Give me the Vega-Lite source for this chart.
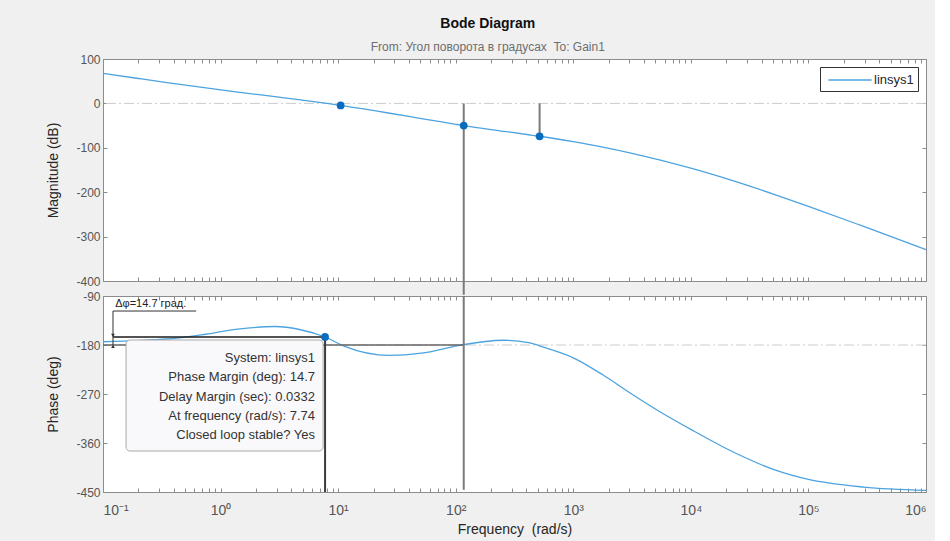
{
  "$schema": "https://vega.github.io/schema/vega-lite/v6.json",
  "background": "#f0f0f0",
  "padding": {"left": 46, "top": 16, "right": 5, "bottom": 5},
  "title": {
    "text": "Bode Diagram",
    "subtitle": "From: Угол поворота в градусах\u00a0 To: Gain1",
    "fontSize": 14,
    "fontWeight": "bold",
    "color": "#111111",
    "subtitleFontSize": 12,
    "subtitleColor": "#6e6e6e",
    "subtitlePadding": 11,
    "offset": 0,
    "anchor": "middle",
    "font": "Liberation Sans",
    "subtitleFont": "Liberation Sans"
  },
  "config": {
    "font": "Liberation Sans",
    "view": {"stroke": "#8c8c8c", "fill": "white", "strokeWidth": 1},
    "axis": {
      "grid": false,
      "domain": false,
      "tickColor": "#8c8c8c",
      "tickSize": -4,
      "labelFontSize": 12,
      "labelColor": "#555555",
      "titleFontSize": 14,
      "titleFontWeight": "normal",
      "titleColor": "#262626",
      "labelPadding": 7
    },
    "legend": {"labelFontSize": 13, "labelColor": "#262626"}
  },
  "datasets": {
    "mag": [
      {"f": 0.1, "m": 67.7}, {"f": 0.2, "m": 56.1}, {"f": 0.35, "m": 46.9}, {"f": 0.65, "m": 37.0},
      {"f": 1.4, "m": 25.5}, {"f": 2.9, "m": 15.1}, {"f": 4.8, "m": 7.8}, {"f": 7.74, "m": 0.5},
      {"f": 11.2, "m": -5.7}, {"f": 27.5, "m": -22.2}, {"f": 51, "m": -34.2}, {"f": 100, "m": -47},
      {"f": 117, "m": -50}, {"f": 257, "m": -62.8}, {"f": 417, "m": -70.6}, {"f": 517, "m": -74},
      {"f": 1000, "m": -86.3}, {"f": 1780, "m": -98.4}, {"f": 3090, "m": -111.8}, {"f": 5500, "m": -127.7},
      {"f": 10000, "m": -146}, {"f": 23400, "m": -175.2}, {"f": 52500, "m": -205.8}, {"f": 100000, "m": -231.8},
      {"f": 295000, "m": -277.2}, {"f": 1000000, "m": -329.4}
    ],
    "magMarkers": [{"f": 10.5, "m": -4.6}, {"f": 117, "m": -50}, {"f": 517, "m": -74}],
    "magRules": [{"f": 117, "m": 0, "m2": -431}, {"f": 517, "m": 0, "m2": -74}],
    "phase": [
      {"f": 0.1, "p": -174}, {"f": 0.2, "p": -172}, {"f": 0.35, "p": -169}, {"f": 0.65, "p": -162},
      {"f": 1.4, "p": -151}, {"f": 2.9, "p": -146}, {"f": 4.8, "p": -152}, {"f": 7.74, "p": -165.3},
      {"f": 11.2, "p": -182}, {"f": 27.5, "p": -199}, {"f": 51, "p": -195}, {"f": 100, "p": -182},
      {"f": 112, "p": -180}, {"f": 257, "p": -171.3}, {"f": 417, "p": -175.7}, {"f": 575, "p": -185},
      {"f": 1000, "p": -203.6}, {"f": 1780, "p": -234.7}, {"f": 3090, "p": -269}, {"f": 5500, "p": -303},
      {"f": 10000, "p": -335}, {"f": 23400, "p": -377.5}, {"f": 52500, "p": -410}, {"f": 100000, "p": -427},
      {"f": 295000, "p": -441}, {"f": 1000000, "p": -447}
    ],
    "pmMarker": [{"f": 7.74, "p": -165.3}]
  },
  "spacing": 15,
  "bounds": "flush",
  "vconcat": [
    {
      "width": 823,
      "height": 222,
      "resolve": {"axis": {"x": "independent", "y": "independent"}},
      "layer": [
        {
          "data": {"values": [{"m": 0}]},
          "mark": {"type": "rule", "color": "#cccccc", "strokeWidth": 1, "strokeDash": [10, 3, 2, 3]},
          "encoding": {
            "y": {"field": "m", "type": "quantitative", "scale": {"domain": [-400, 100], "nice": false, "zero": false}, "axis": null}
          }
        },
        {
          "data": {"name": "mag"},
          "mark": {"type": "line", "strokeWidth": 1.3, "interpolate": "monotone"},
          "encoding": {
            "x": {"field": "f", "type": "quantitative", "scale": {"type": "log", "domain": [0.1, 1000000], "nice": false},
              "axis": {"orient": "bottom", "labels": false, "title": null,
                "values": [0.1,0.2,0.3,0.4,0.5,0.6,0.7,0.8,0.9,1,2,3,4,5,6,7,8,9,10,20,30,40,50,60,70,80,90,100,200,300,400,500,600,700,800,900,1000,2000,3000,4000,5000,6000,7000,8000,9000,10000,20000,30000,40000,50000,60000,70000,80000,90000,100000,200000,300000,400000,500000,600000,700000,800000,900000,1000000]}},
            "y": {"field": "m", "type": "quantitative", "scale": {"domain": [-400, 100], "nice": false, "zero": false},
              "axis": {"orient": "left", "title": "Magnitude (dB)", "values": [-400, -300, -200, -100, 0, 100], "titlePadding": 15,
                "labelExpr": "replace(datum.label, '−', '-')"}},
            "color": {"datum": "linsys1", "type": "nominal", "scale": {"range": ["#4da3e0"]},
              "legend": {"title": null, "orient": "top-right", "offset": 8, "fillColor": "white", "strokeColor": "#333333",
                "padding": 4, "symbolType": "M-2.7,0H2.7", "symbolSize": 256, "symbolStrokeWidth": 1.5,
                "symbolOffset": 17, "labelOffset": 15, "labelExpr": "datum.label + '\u00a0\u00a0'"}}
          }
        },
        {
          "data": {"name": "magRules"},
          "mark": {"type": "rule", "color": "#7a7a7a", "strokeWidth": 2, "clip": false},
          "encoding": {
            "x": {"field": "f", "type": "quantitative", "scale": {"type": "log", "domain": [0.1, 1000000], "nice": false}, "axis": null},
            "y": {"field": "m", "type": "quantitative", "scale": {"domain": [-400, 100], "nice": false, "zero": false}, "axis": null},
            "y2": {"field": "m2"}
          }
        },
        {
          "data": {"name": "magMarkers"},
          "mark": {"type": "point", "filled": true, "opacity": 1, "color": "#0a6cbf", "size": 60},
          "encoding": {
            "x": {"field": "f", "type": "quantitative", "scale": {"type": "log", "domain": [0.1, 1000000], "nice": false},
              "axis": {"orient": "top", "labels": false, "title": null,
                "values": [0.1,0.2,0.3,0.4,0.5,0.6,0.7,0.8,0.9,1,2,3,4,5,6,7,8,9,10,20,30,40,50,60,70,80,90,100,200,300,400,500,600,700,800,900,1000,2000,3000,4000,5000,6000,7000,8000,9000,10000,20000,30000,40000,50000,60000,70000,80000,90000,100000,200000,300000,400000,500000,600000,700000,800000,900000,1000000]}},
            "y": {"field": "m", "type": "quantitative", "scale": {"domain": [-400, 100], "nice": false, "zero": false},
              "axis": {"orient": "right", "labels": false, "title": null, "values": [-400, -300, -200, -100, 0, 100]}}
          }
        }
      ]
    },
    {
      "width": 823,
      "height": 196,
      "resolve": {"axis": {"x": "independent", "y": "independent"}},
      "layer": [
        {
          "data": {"values": [{"p": -180}]},
          "mark": {"type": "rule", "color": "#cccccc", "strokeWidth": 1, "strokeDash": [10, 3, 2, 3]},
          "encoding": {
            "y": {"field": "p", "type": "quantitative", "scale": {"domain": [-450, -90], "nice": false, "zero": false}, "axis": null}
          }
        },
        {
          "data": {"name": "phase"},
          "mark": {"type": "line", "strokeWidth": 1.3, "color": "#4da3e0", "interpolate": "monotone"},
          "encoding": {
            "x": {"field": "f", "type": "quantitative", "scale": {"type": "log", "domain": [0.1, 1000000], "nice": false},
              "axis": {"orient": "bottom", "title": "Frequency\u00a0 (rad/s)", "titlePadding": 5,
                "labelFontSize": 14, "labelPadding": 15,
                "labelExpr": "abs(log(datum.value)/LN10 - round(log(datum.value)/LN10)) < 0.001 ? '10' + ['⁻¹','⁰','¹','²','³','⁴','⁵','⁶'][round(log(datum.value)/LN10)+1] : ''",
                "values": [0.1,0.2,0.3,0.4,0.5,0.6,0.7,0.8,0.9,1,2,3,4,5,6,7,8,9,10,20,30,40,50,60,70,80,90,100,200,300,400,500,600,700,800,900,1000,2000,3000,4000,5000,6000,7000,8000,9000,10000,20000,30000,40000,50000,60000,70000,80000,90000,100000,200000,300000,400000,500000,600000,700000,800000,900000,1000000]}},
            "y": {"field": "p", "type": "quantitative", "scale": {"domain": [-450, -90], "nice": false, "zero": false},
              "axis": {"orient": "left", "title": "Phase (deg)", "values": [-450, -360, -270, -180, -90], "titlePadding": 15,
                "labelExpr": "replace(datum.label, '−', '-')"}}
          }
        },
        {
          "data": {"values": [{"f": 0.1, "f2": 117, "p": -180}]},
          "mark": {"type": "rule", "color": "#666666", "strokeWidth": 1.5},
          "encoding": {
            "x": {"field": "f", "type": "quantitative", "scale": {"type": "log", "domain": [0.1, 1000000], "nice": false}, "axis": null},
            "x2": {"field": "f2"},
            "y": {"field": "p", "type": "quantitative", "scale": {"domain": [-450, -90], "nice": false, "zero": false}, "axis": null}
          }
        },
        {
          "data": {"values": [{"f": 117, "p": -90, "p2": -446}]},
          "mark": {"type": "rule", "color": "#7a7a7a", "strokeWidth": 2},
          "encoding": {
            "x": {"field": "f", "type": "quantitative", "scale": {"type": "log", "domain": [0.1, 1000000], "nice": false}, "axis": null},
            "y": {"field": "p", "type": "quantitative", "scale": {"domain": [-450, -90], "nice": false, "zero": false}, "axis": null},
            "y2": {"field": "p2"}
          }
        },
        {
          "data": {"values": [{"f": 0.157, "f2": 7.45, "p": -170.8, "p2": -374.7}]},
          "mark": {"type": "rect", "fill": "#f9f9fc", "stroke": "#a8a8a8", "strokeWidth": 1, "cornerRadius": 4},
          "encoding": {
            "x": {"field": "f", "type": "quantitative", "scale": {"type": "log", "domain": [0.1, 1000000], "nice": false}, "axis": null},
            "x2": {"field": "f2"},
            "y": {"field": "p", "type": "quantitative", "scale": {"domain": [-450, -90], "nice": false, "zero": false}, "axis": null},
            "y2": {"field": "p2"}
          }
        },
        {
          "data": {"values": [{"f": 7.74, "p": -165.3, "p2": -450}]},
          "mark": {"type": "rule", "color": "#3c3c3c", "strokeWidth": 2},
          "encoding": {
            "x": {"field": "f", "type": "quantitative", "scale": {"type": "log", "domain": [0.1, 1000000], "nice": false}, "axis": null},
            "y": {"field": "p", "type": "quantitative", "scale": {"domain": [-450, -90], "nice": false, "zero": false}, "axis": null},
            "y2": {"field": "p2"}
          }
        },
        {
          "data": {"values": [{"f": 0.1216, "f2": 7.74, "p": -165.3}]},
          "mark": {"type": "rule", "color": "#1a1a1a", "strokeWidth": 1.5},
          "encoding": {
            "x": {"field": "f", "type": "quantitative", "scale": {"type": "log", "domain": [0.1, 1000000], "nice": false}, "axis": null},
            "x2": {"field": "f2"},
            "y": {"field": "p", "type": "quantitative", "scale": {"domain": [-450, -90], "nice": false, "zero": false}, "axis": null}
          }
        },
        {
          "data": {"values": [{"f": 0.1216, "f2": 0.1216, "p": -117.6, "p2": -180}, {"f": 0.1216, "f2": 0.62, "p": -117.6, "p2": -117.6}]},
          "mark": {"type": "rule", "color": "#333333", "strokeWidth": 1},
          "encoding": {
            "x": {"field": "f", "type": "quantitative", "scale": {"type": "log", "domain": [0.1, 1000000], "nice": false}, "axis": null},
            "x2": {"field": "f2"},
            "y": {"field": "p", "type": "quantitative", "scale": {"domain": [-450, -90], "nice": false, "zero": false}, "axis": null},
            "y2": {"field": "p2"}
          }
        },
        {
          "data": {"values": [{"f": 0.1216, "p": -162.5, "s": "triangle-down"}, {"f": 0.1216, "p": -182.5, "s": "triangle-up"}]},
          "mark": {"type": "point", "filled": true, "color": "#333333", "size": 14, "opacity": 1},
          "encoding": {
            "x": {"field": "f", "type": "quantitative", "scale": {"type": "log", "domain": [0.1, 1000000], "nice": false}, "axis": null},
            "y": {"field": "p", "type": "quantitative", "scale": {"domain": [-450, -90], "nice": false, "zero": false}, "axis": null},
            "shape": {"field": "s", "type": "nominal", "scale": null, "legend": null}
          }
        },
        {
          "data": {"values": [{"f": 0.127, "p": -104.7, "t": "Δφ=14.7 град."}]},
          "mark": {"type": "text", "align": "left", "baseline": "middle", "fontSize": 11, "color": "#222222"},
          "encoding": {
            "x": {"field": "f", "type": "quantitative", "scale": {"type": "log", "domain": [0.1, 1000000], "nice": false}, "axis": null},
            "y": {"field": "p", "type": "quantitative", "scale": {"domain": [-450, -90], "nice": false, "zero": false}, "axis": null},
            "text": {"field": "t"}
          }
        },
        {
          "data": {"values": [{"f": 6.36, "p": -192.9}]},
          "mark": {"type": "text", "align": "right", "baseline": "top", "fontSize": 13, "lineHeight": 19.3, "color": "#333333",
            "text": ["System: linsys1", "Phase Margin (deg): 14.7", "Delay Margin (sec): 0.0332", "At frequency (rad/s): 7.74", "Closed loop stable? Yes"]},
          "encoding": {
            "x": {"field": "f", "type": "quantitative", "scale": {"type": "log", "domain": [0.1, 1000000], "nice": false}, "axis": null},
            "y": {"field": "p", "type": "quantitative", "scale": {"domain": [-450, -90], "nice": false, "zero": false}, "axis": null}
          }
        },
        {
          "data": {"name": "pmMarker"},
          "mark": {"type": "point", "filled": true, "opacity": 1, "color": "#0a6cbf", "size": 60},
          "encoding": {
            "x": {"field": "f", "type": "quantitative", "scale": {"type": "log", "domain": [0.1, 1000000], "nice": false},
              "axis": {"orient": "top", "labels": false, "title": null,
                "values": [0.1,0.2,0.3,0.4,0.5,0.6,0.7,0.8,0.9,1,2,3,4,5,6,7,8,9,10,20,30,40,50,60,70,80,90,100,200,300,400,500,600,700,800,900,1000,2000,3000,4000,5000,6000,7000,8000,9000,10000,20000,30000,40000,50000,60000,70000,80000,90000,100000,200000,300000,400000,500000,600000,700000,800000,900000,1000000]}},
            "y": {"field": "p", "type": "quantitative", "scale": {"domain": [-450, -90], "nice": false, "zero": false},
              "axis": {"orient": "right", "labels": false, "title": null, "values": [-450, -360, -270, -180, -90]}}
          }
        }
      ]
    }
  ]
}
